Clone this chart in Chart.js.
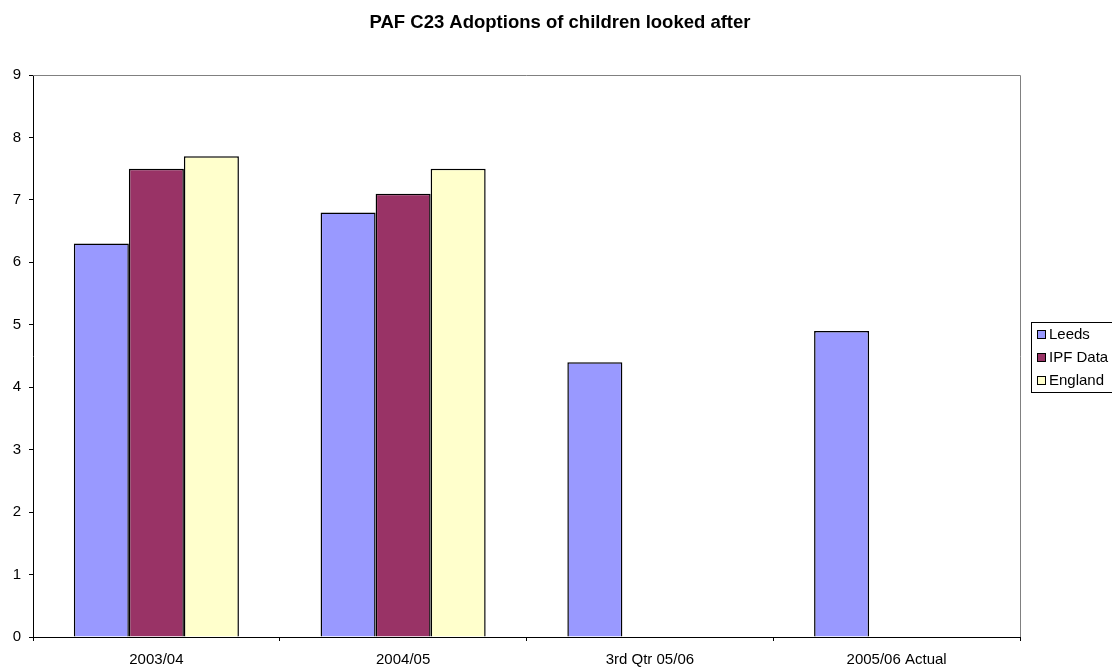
<!DOCTYPE html>
<html>
<head>
<meta charset="utf-8">
<script src="https://cdn.jsdelivr.net/npm/chart.js@4/dist/chart.umd.min.js"></script>
<style>
  html, body { margin: 0; padding: 0; background: #fff; }
  #wrap { width: 1112px; height: 668px; }
</style>
</head>
<body>
<div id="wrap"><canvas id="c" width="1112" height="668"></canvas></div>
<script>
const chartTitle = 'PAF C23 Adoptions of children looked after';
const categories = ['2003/04', '2004/05', '3rd Qtr 05/06', '2005/06 Actual'];
const leeds   = [6.3, 6.8, 4.4, 4.9];
const ipfData = [7.5, 7.1, null, null];
const england = [7.7, 7.5, null, null];
const yTicks  = [0, 1, 2, 3, 4, 5, 6, 7, 8, 9];

const FONT = "'Liberation Sans', Arial, sans-serif";

// Title centred over the whole canvas
const pageTitle = {
  id: 'pageTitle',
  afterDraw(chart) {
    const { ctx } = chart;
    ctx.save();
    ctx.font = 'bold 18.5px ' + FONT;
    ctx.fillStyle = '#000';
    ctx.textAlign = 'center';
    ctx.textBaseline = 'middle';
    ctx.fillText(chartTitle, 560, 22.5);
    ctx.restore();
  }
};

// Gray frame on the top and right of the plot area
const frame = {
  id: 'frame',
  afterDatasetsDraw(chart) {
    const { ctx, chartArea: a } = chart;
    ctx.save();
    ctx.strokeStyle = '#808080';
    ctx.lineWidth = 1;
    ctx.beginPath();
    ctx.moveTo(a.left, a.top + 0.5);
    ctx.lineTo(a.right + 0.5, a.top + 0.5);
    ctx.lineTo(a.right + 0.5, a.bottom);
    ctx.stroke();
    ctx.restore();
  }
};

// Boxed legend to the right of the plot
const boxLegend = {
  id: 'boxLegend',
  afterDraw(chart) {
    const { ctx } = chart;
    const x = 1031.5, y = 322.5, w = 100, h = 70;
    ctx.save();
    ctx.fillStyle = '#fff';
    ctx.fillRect(x, y, w, h);
    ctx.strokeStyle = '#000';
    ctx.lineWidth = 1;
    ctx.strokeRect(x, y, w, h);
    ctx.font = '15px ' + FONT;
    ctx.textBaseline = 'middle';
    chart.data.datasets.forEach((ds, i) => {
      const cy = 334 + i * 23;
      ctx.fillStyle = ds.backgroundColor;
      ctx.fillRect(1037, cy - 4, 9, 9);
      ctx.strokeStyle = '#000';
      ctx.strokeRect(1037.5, cy - 3.5, 8, 8);
      ctx.fillStyle = '#000';
      ctx.fillText(ds.label, 1049, cy + 1);
    });
    ctx.restore();
  }
};

new Chart(document.getElementById('c'), {
  type: 'bar',
  data: {
    labels: categories,
    datasets: [
      { label: 'Leeds',    data: leeds,   backgroundColor: '#9999FF' },
      { label: 'IPF Data', data: ipfData, backgroundColor: '#993366' },
      { label: 'England',  data: england, backgroundColor: '#FFFFCC' }
    ].map(d => Object.assign(d, { borderColor: '#000', borderWidth: 1.5 }))
  },
  options: {
    responsive: false,
    animation: false,
    devicePixelRatio: 1,
    layout: { padding: { left: 0, right: 92, top: 75, bottom: 0 } },
    datasets: { bar: { categoryPercentage: 0.669, barPercentage: 1.0, skipNull: false } },
    plugins: {
      legend: { display: false },
      tooltip: { enabled: false },
      title: { display: false }
    },
    scales: {
      x: {
        grid: { display: true, drawOnChartArea: false, offset: true, color: '#000', tickLength: 4 },
        border: { display: true, color: '#000', width: 1 },
        ticks: { color: '#000', font: { family: FONT, size: 15 }, padding: 10, maxRotation: 0 },
        afterFit(s) { s.height = 31; }
      },
      y: {
        min: 0, max: 9,
        afterBuildTicks(s) { s.ticks = yTicks.map(v => ({ value: v })); },
        grid: { display: true, drawOnChartArea: false, color: '#000', tickLength: 4 },
        border: { display: true, color: '#000', width: 1 },
        ticks: { color: '#000', font: { family: FONT, size: 15 }, padding: 8 },
        afterFit(s) { s.width = 33; }
      }
    }
  },
  plugins: [frame, boxLegend, pageTitle]
});
</script>
</body>
</html>
